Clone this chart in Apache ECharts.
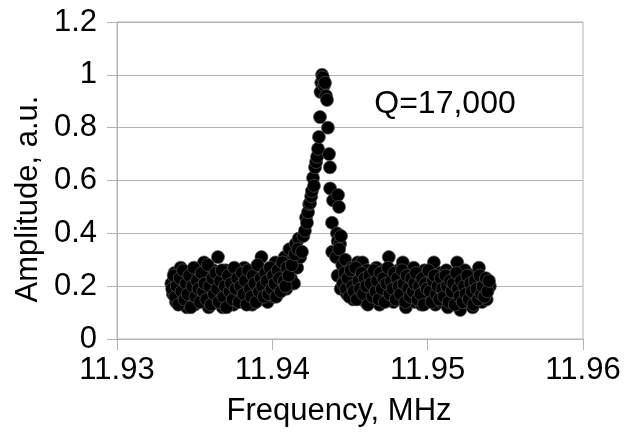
<!DOCTYPE html>
<html>
<head>
<meta charset="utf-8">
<script src="https://cdn.jsdelivr.net/npm/echarts@6/dist/echarts.min.js"></script>
<style>
  html, body { margin: 0; padding: 0; background: #fff; }
  #chart { width: 624px; height: 441px; }
</style>
</head>
<body>
<div id="chart"></div>
<script>
// values: [frequency MHz, amplitude a.u.]
const leftBase = [
  [11.9335, 0.21], [11.9336, 0.17], [11.9337, 0.25], [11.9338, 0.14], [11.9339, 0.22],
  [11.9340, 0.19], [11.9341, 0.27], [11.9342, 0.15], [11.9343, 0.23], [11.9344, 0.18],
  [11.9345, 0.12], [11.9346, 0.24], [11.9347, 0.20], [11.9348, 0.16], [11.9349, 0.26],
  [11.9350, 0.13], [11.9351, 0.22], [11.9352, 0.18], [11.9353, 0.25], [11.9354, 0.15],
  [11.9355, 0.21], [11.9356, 0.29], [11.9357, 0.17], [11.9358, 0.25], [11.9359, 0.12],
  [11.9360, 0.22], [11.9361, 0.19], [11.9362, 0.26], [11.9363, 0.14], [11.9364, 0.21],
  [11.9365, 0.31], [11.9366, 0.17], [11.9367, 0.24], [11.9368, 0.12], [11.9369, 0.20],
  [11.9370, 0.26], [11.9371, 0.16], [11.9372, 0.22], [11.9373, 0.19], [11.9374, 0.25],
  [11.9375, 0.13], [11.9376, 0.21], [11.9377, 0.18], [11.9378, 0.26], [11.9379, 0.15],
  [11.9380, 0.23], [11.9381, 0.19], [11.9382, 0.27], [11.9383, 0.14], [11.9384, 0.22],
  [11.9385, 0.18], [11.9386, 0.25], [11.9387, 0.13], [11.9388, 0.21], [11.9389, 0.17],
  [11.9390, 0.26], [11.9391, 0.20], [11.9392, 0.15], [11.9393, 0.31], [11.9394, 0.23],
  [11.9395, 0.18], [11.9396, 0.26], [11.9397, 0.14], [11.9398, 0.22], [11.9399, 0.19],
  [11.9400, 0.27], [11.9401, 0.16], [11.9402, 0.29], [11.9403, 0.21], [11.9404, 0.25],
  [11.9405, 0.18], [11.9406, 0.28], [11.9407, 0.22], [11.9408, 0.31], [11.9409, 0.19],
  [11.9410, 0.26], [11.9411, 0.34], [11.9412, 0.23], [11.9413, 0.30], [11.9414, 0.21],
  [11.9415, 0.36], [11.9416, 0.27], [11.9417, 0.38], [11.9418, 0.31]
];

const leftFill = [
  [11.93355, 0.19], [11.93365, 0.24], [11.93375, 0.16], [11.93385, 0.20], [11.93395, 0.13],
  [11.93405, 0.23], [11.93415, 0.18], [11.93425, 0.26], [11.93435, 0.15], [11.93445, 0.21],
  [11.93455, 0.17], [11.93465, 0.24], [11.93475, 0.12], [11.93485, 0.20], [11.93495, 0.27],
  [11.93505, 0.16], [11.93515, 0.22], [11.93525, 0.19], [11.93535, 0.14], [11.93545, 0.25],
  [11.93555, 0.18], [11.93565, 0.21], [11.93575, 0.15], [11.93585, 0.28], [11.93595, 0.20],
  [11.93605, 0.13], [11.93615, 0.23], [11.93625, 0.17], [11.93635, 0.25], [11.93645, 0.19],
  [11.93655, 0.14], [11.93665, 0.22], [11.93675, 0.26], [11.93685, 0.16], [11.93695, 0.20],
  [11.93705, 0.12], [11.93715, 0.24], [11.93725, 0.18], [11.93735, 0.21], [11.93745, 0.15],
  [11.93755, 0.27], [11.93765, 0.19], [11.93775, 0.23], [11.93785, 0.14], [11.93795, 0.20],
  [11.93805, 0.25], [11.93815, 0.17], [11.93825, 0.22], [11.93835, 0.13], [11.93845, 0.26],
  [11.93855, 0.19], [11.93865, 0.16], [11.93875, 0.24], [11.93885, 0.21], [11.93895, 0.14],
  [11.93905, 0.28], [11.93915, 0.18], [11.93925, 0.23], [11.93935, 0.20], [11.93945, 0.16],
  [11.93955, 0.25], [11.93965, 0.22], [11.93975, 0.17], [11.93985, 0.27], [11.93995, 0.19],
  [11.94005, 0.24], [11.94015, 0.21], [11.94025, 0.16], [11.94035, 0.26], [11.94045, 0.23],
  [11.94055, 0.18], [11.94065, 0.29], [11.94075, 0.22], [11.94085, 0.20], [11.94095, 0.27],
  [11.94105, 0.24], [11.94125, 0.28], [11.94145, 0.32], [11.94165, 0.34]
];

const peak = [
  [11.94191, 0.33], [11.94200, 0.39], [11.94210, 0.41], [11.94217, 0.46], [11.94223, 0.44],
  [11.94230, 0.48], [11.94237, 0.51], [11.94243, 0.515], [11.94250, 0.54], [11.94255, 0.56],
  [11.94262, 0.61], [11.94268, 0.58], [11.94275, 0.65], [11.94282, 0.67], [11.94288, 0.69],
  [11.94294, 0.72], [11.94300, 0.765], [11.94307, 0.84], [11.94310, 0.935], [11.94315, 0.97],
  [11.94320, 1.00], [11.94326, 0.99], [11.94333, 0.96], [11.94339, 0.97], [11.94346, 0.92],
  [11.94352, 0.905], [11.94358, 0.80], [11.94365, 0.70], [11.94371, 0.65], [11.94372, 0.57],
  [11.94384, 0.44], [11.94385, 0.33], [11.94391, 0.525], [11.94416, 0.40], [11.94421, 0.37],
  [11.94423, 0.545], [11.94429, 0.50], [11.94436, 0.36], [11.94442, 0.39], [11.94455, 0.30],
  [11.94468, 0.27]
];

const rightBase = [
  [11.9441, 0.31], [11.9442, 0.24], [11.9443, 0.34], [11.9444, 0.19], [11.9445, 0.28],
  [11.9446, 0.22], [11.9447, 0.30], [11.9448, 0.17], [11.9449, 0.25], [11.9450, 0.21],
  [11.9451, 0.27], [11.9452, 0.15], [11.9453, 0.23], [11.9454, 0.19], [11.9455, 0.29],
  [11.9456, 0.16], [11.9457, 0.24], [11.9458, 0.29], [11.9459, 0.20], [11.9460, 0.14],
  [11.9461, 0.26], [11.9462, 0.22], [11.9463, 0.18], [11.9464, 0.25], [11.9465, 0.15],
  [11.9466, 0.21], [11.9467, 0.27], [11.9468, 0.19], [11.9469, 0.13], [11.9470, 0.24],
  [11.9471, 0.20], [11.9472, 0.26], [11.9473, 0.17], [11.9474, 0.22], [11.9475, 0.31],
  [11.9476, 0.18], [11.9477, 0.25], [11.9478, 0.14], [11.9479, 0.21], [11.9480, 0.19],
  [11.9481, 0.26], [11.9482, 0.15], [11.9483, 0.23], [11.9484, 0.29], [11.9485, 0.18],
  [11.9486, 0.12], [11.9487, 0.22], [11.9488, 0.25], [11.9489, 0.16], [11.9490, 0.20],
  [11.9491, 0.27], [11.9492, 0.14], [11.9493, 0.21], [11.9494, 0.18], [11.9495, 0.24],
  [11.9496, 0.13], [11.9497, 0.20], [11.9498, 0.26], [11.9499, 0.17], [11.9500, 0.22],
  [11.9501, 0.15], [11.9502, 0.24], [11.9503, 0.19], [11.9504, 0.29], [11.9505, 0.13],
  [11.9506, 0.21], [11.9507, 0.18], [11.9508, 0.25], [11.9509, 0.14], [11.9510, 0.22],
  [11.9511, 0.19], [11.9512, 0.26], [11.9513, 0.12], [11.9514, 0.20], [11.9515, 0.17],
  [11.9516, 0.24], [11.9517, 0.15], [11.9518, 0.21], [11.9519, 0.29], [11.9520, 0.18],
  [11.9521, 0.11], [11.9522, 0.23], [11.9523, 0.19], [11.9524, 0.26], [11.9525, 0.14],
  [11.9526, 0.21], [11.9527, 0.17], [11.9528, 0.24], [11.9529, 0.12], [11.9530, 0.20],
  [11.9531, 0.16], [11.9532, 0.23], [11.9533, 0.27], [11.9534, 0.18], [11.9535, 0.14],
  [11.9536, 0.22], [11.9537, 0.19], [11.9538, 0.15], [11.9539, 0.21], [11.9540, 0.20]
];

const rightFill = [
  [11.94455, 0.21], [11.94465, 0.25], [11.94475, 0.19], [11.94485, 0.23], [11.94495, 0.16],
  [11.94505, 0.26], [11.94515, 0.20], [11.94525, 0.18], [11.94535, 0.27], [11.94545, 0.15],
  [11.94555, 0.22], [11.94565, 0.19], [11.94575, 0.25], [11.94585, 0.17], [11.94595, 0.23],
  [11.94605, 0.20], [11.94615, 0.13], [11.94625, 0.24], [11.94635, 0.21], [11.94645, 0.16],
  [11.94655, 0.26], [11.94665, 0.18], [11.94675, 0.22], [11.94685, 0.15], [11.94695, 0.25],
  [11.94705, 0.19], [11.94715, 0.23], [11.94725, 0.14], [11.94735, 0.21], [11.94745, 0.27],
  [11.94755, 0.17], [11.94765, 0.22], [11.94775, 0.19], [11.94785, 0.25], [11.94795, 0.15],
  [11.94805, 0.23], [11.94815, 0.20], [11.94825, 0.17], [11.94835, 0.26], [11.94845, 0.21],
  [11.94855, 0.14], [11.94865, 0.24], [11.94875, 0.19], [11.94885, 0.16], [11.94895, 0.23],
  [11.94905, 0.18], [11.94915, 0.21], [11.94925, 0.25], [11.94935, 0.15], [11.94945, 0.20],
  [11.94955, 0.17], [11.94965, 0.23], [11.94975, 0.13], [11.94985, 0.21], [11.94995, 0.19],
  [11.95005, 0.26], [11.95015, 0.18], [11.95025, 0.14], [11.95035, 0.22], [11.95045, 0.24],
  [11.95055, 0.17], [11.95065, 0.20], [11.95075, 0.15], [11.95085, 0.23], [11.95095, 0.19],
  [11.95105, 0.16], [11.95115, 0.24], [11.95125, 0.20], [11.95135, 0.14], [11.95145, 0.22],
  [11.95155, 0.18], [11.95165, 0.21], [11.95175, 0.13], [11.95185, 0.25], [11.95195, 0.19],
  [11.95205, 0.16], [11.95215, 0.22], [11.95225, 0.14], [11.95235, 0.20], [11.95245, 0.17],
  [11.95255, 0.24], [11.95265, 0.15], [11.95275, 0.21], [11.95285, 0.18], [11.95295, 0.13],
  [11.95305, 0.22], [11.95315, 0.19], [11.95325, 0.15], [11.95335, 0.24], [11.95345, 0.17],
  [11.95355, 0.20], [11.95365, 0.16], [11.95375, 0.23], [11.95385, 0.18], [11.95395, 0.22]
];

const xTicks = { min: 11.93, max: 11.96, step: 0.01 };
const yTicks = { min: 0, max: 1.2, step: 0.2 };
const note = 'Q=17,000';

const font = 'Liberation Sans';
const gray = '#b3b3b3';

const chart = echarts.init(document.getElementById('chart'), null, { renderer: 'canvas' });
chart.setOption({
  animation: false,
  grid: {
    left: 117, right: 41, top: 22, bottom: 102,
    show: true, borderColor: gray, borderWidth: 1
  },
  xAxis: {
    type: 'value',
    min: xTicks.min, max: xTicks.max, interval: xTicks.step,
    axisLine: { lineStyle: { color: gray } },
    axisTick: { show: true, length: 11, lineStyle: { color: gray } },
    splitLine: { show: false },
    axisLabel: {
      color: '#000', fontFamily: font, fontSize: 31, margin: 16,
      formatter: v => v.toFixed(2)
    }
  },
  yAxis: {
    type: 'value',
    min: yTicks.min, max: yTicks.max, interval: yTicks.step,
    axisLine: { show: true, lineStyle: { color: gray } },
    axisTick: { show: true, length: 10, lineStyle: { color: gray } },
    splitLine: { lineStyle: { color: gray } },
    axisLabel: { color: '#000', fontFamily: font, fontSize: 31, margin: 20 }
  },
  graphic: [
    {
      type: 'text', x: 445, y: 104,
      style: { text: note, font: '32px "Liberation Sans"', fill: '#000', align: 'center', verticalAlign: 'middle' }
    },
    {
      type: 'text', x: 339, y: 411,
      style: { text: 'Frequency, MHz', font: '31px "Liberation Sans"', fill: '#000', align: 'center', verticalAlign: 'middle' }
    },
    {
      type: 'text', x: 28, y: 199, rotation: Math.PI / 2,
      style: { text: 'Amplitude, a.u.', font: '31px "Liberation Sans"', fill: '#000', align: 'center', verticalAlign: 'middle' }
    }
  ],
  series: [leftBase, leftFill, peak, rightBase, rightFill].map(d => ({
    type: 'scatter',
    data: d,
    symbol: 'circle',
    symbolSize: 13,
    itemStyle: { color: '#000', borderColor: '#555', borderWidth: 0.7, opacity: 1 }
  }))
});
</script>
</body>
</html>
